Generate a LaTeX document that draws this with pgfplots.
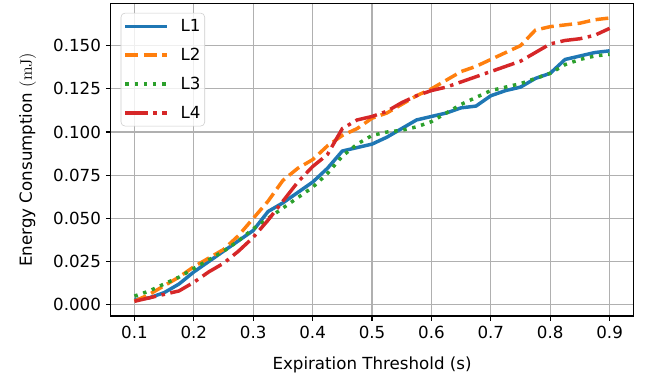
\documentclass[border=0pt]{standalone}
\usepackage[no-math]{fontspec}
\setmainfont{DejaVu Sans}
\usepackage{pgfplots}
\usepackage{pgfplotstable}
\pgfplotsset{compat=1.18}
\definecolor{c0}{HTML}{1F77B4}
\definecolor{c1}{HTML}{FF7F0E}
\definecolor{c2}{HTML}{2CA02C}
\definecolor{c3}{HTML}{D62728}
\definecolor{gridc}{HTML}{B0B0B0}

\pgfplotstableread{
x L1 L2 L3 L4
0.100 0.003 0.002 0.005 0.002
0.125 0.004 0.006 0.008 0.004
0.150 0.007 0.011 0.012 0.006
0.175 0.012 0.016 0.016 0.008
0.200 0.019 0.022 0.021 0.013
0.225 0.025 0.027 0.026 0.019
0.250 0.031 0.032 0.031 0.024
0.275 0.037 0.040 0.037 0.031
0.300 0.043 0.050 0.044 0.039
0.325 0.054 0.060 0.050 0.049
0.350 0.059 0.072 0.056 0.060
0.375 0.065 0.079 0.062 0.071
0.400 0.071 0.084 0.068 0.080
0.425 0.079 0.092 0.076 0.087
0.450 0.089 0.098 0.086 0.102
0.475 0.091 0.102 0.093 0.107
0.500 0.093 0.108 0.098 0.109
0.525 0.097 0.111 0.100 0.112
0.550 0.102 0.116 0.101 0.117
0.575 0.107 0.121 0.103 0.121
0.600 0.109 0.125 0.106 0.124
0.625 0.111 0.130 0.111 0.126
0.650 0.114 0.135 0.116 0.129
0.675 0.115 0.138 0.120 0.132
0.700 0.121 0.142 0.124 0.135
0.725 0.124 0.146 0.126 0.138
0.750 0.126 0.150 0.128 0.141
0.775 0.131 0.159 0.131 0.146
0.800 0.134 0.161 0.134 0.151
0.825 0.142 0.162 0.139 0.153
0.850 0.144 0.163 0.142 0.154
0.875 0.146 0.165 0.144 0.156
0.900 0.147 0.166 0.145 0.160
}\datatable

\begin{document}
\begin{tikzpicture}
\begin{axis}[
  name=ax,
  scale only axis,
  width=376.3pt, height=225.1pt,
  xmin=0.06, xmax=0.94,
  ymin=-0.0065, ymax=0.1745,
  font=\fontsize{12}{14}\selectfont,
  xtick={0.1,0.2,0.3,0.4,0.5,0.6,0.7,0.8,0.9},
  ytick={0,0.025,0.05,0.075,0.1,0.125,0.15},
  /pgf/number format/assume math mode=true,
  xticklabel style={/pgf/number format/fixed, /pgf/number format/fixed zerofill, /pgf/number format/precision=1},
  yticklabel style={/pgf/number format/fixed, /pgf/number format/fixed zerofill, /pgf/number format/precision=3},
  scaled y ticks=false,
  scaled x ticks=false,
  tick align=outside,
  tick pos=left,
  major tick length=3.5pt,
  every tick/.style={black, line width=0.8pt},
  axis line style={line width=0.8pt},
  grid=major,
  major grid style={gridc, line width=0.8pt},
  xlabel={Expiration Threshold (s)},
  ylabel={Energy Consumption $(\mathrm{mJ})$},
  xlabel style={at={(axis description cs:0.5,-0.156)}, anchor=center},
  ylabel style={at={(axis description cs:-0.159,0.5)}, anchor=center},
  legend style={at={(0,1)}, anchor=north west, xshift=7.2pt, yshift=-6.8pt,
    draw=black!20, rounded corners=3pt, fill=white, fill opacity=0.8, text opacity=1,
    inner xsep=2pt, inner ysep=3.5pt, row sep=8.8pt,
    font=\fontsize{12}{14}\selectfont,
    nodes={inner sep=1pt, text height=9pt, text depth=1pt},
    /tikz/every odd column/.append style={column sep=7.5pt}},
  legend cell align=left,
  legend image code/.code={\draw[#1] (0pt,0pt) -- (30pt,0pt);},
]
\addplot[c0, line width=2.5pt, line join=round] table[x=x, y=L1] {\datatable};
\addlegendentry{L1}
\addplot[c1, line width=2.5pt, dash pattern=on 9.25pt off 4pt] table[x=x, y=L2] {\datatable};
\addlegendentry{L2}
\addplot[c2, line width=2.5pt, dash pattern=on 2.5pt off 4.1pt] table[x=x, y=L3] {\datatable};
\addlegendentry{L3}
\addplot[c3, line width=2.5pt, dash pattern=on 16pt off 4pt on 2.5pt off 4pt] table[x=x, y=L4] {\datatable};
\addlegendentry{L4\hspace{4pt}}
\end{axis}
\path (ax.south west) ++(-79.7pt,-47.5pt) coordinate (bbA);
\path (ax.north east) ++(12.7pt,2.4pt) coordinate (bbB);
\path (bbA) rectangle (bbB);
\end{tikzpicture}
\end{document}
